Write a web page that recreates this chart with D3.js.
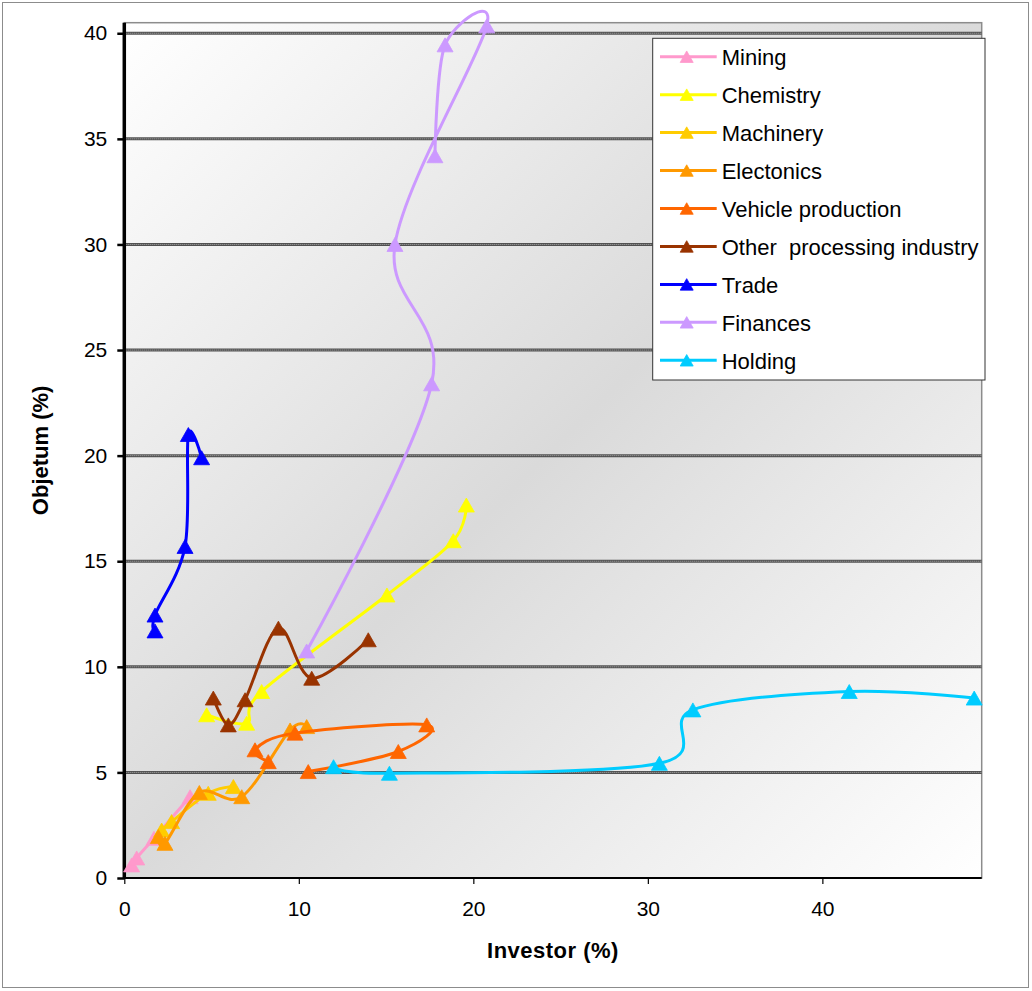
<!DOCTYPE html>
<html>
<head>
<meta charset="utf-8">
<script src="https://cdn.jsdelivr.net/npm/d3@7"></script>
<style>
  html, body { margin: 0; padding: 0; background: #ffffff; }
  svg { display: block; font-family: "Liberation Sans", Arial, sans-serif; }
</style>
</head>
<body>
<svg id="chart" width="1032" height="991"></svg>
<script>
// ---------- data ----------
const seriesNames = ["Mining", "Chemistry", "Machinery", "Electonics", "Vehicle production",
                     "Other  processing industry", "Trade", "Finances", "Holding"];
const seriesColors = ["#FF99CC", "#FFFF00", "#FFCC00", "#FF9900", "#FF6600",
                      "#993300", "#0000FF", "#CC99FF", "#00CCFF"];

const miningX = [0.42, 0.71, 1.70, 3.77];
const miningY = [0.62, 0.95, 1.88, 3.85];
const chemistryX = [4.72, 7.01, 7.87, 15.05, 18.85, 19.60];
const chemistryY = [7.73, 7.33, 8.83, 13.40, 15.97, 17.66];
const machineryX = [2.14, 2.71, 4.81, 6.25];
const machineryY = [2.27, 2.67, 4.01, 4.33];
const electronicsX = [1.95, 2.33, 4.30, 6.73, 9.50, 10.45];
const electronicsY = [1.96, 1.64, 4.05, 3.85, 7.01, 7.17];
const vehicleX = [8.25, 7.49, 9.78, 17.33, 15.70, 10.54];
const vehicleY = [5.51, 6.07, 6.86, 7.25, 5.99, 5.04];
const otherX = [5.10, 5.96, 6.92, 8.83, 10.74, 13.98];
const otherY = [8.52, 7.25, 8.44, 11.83, 9.46, 11.28];
const tradeX = [1.76, 1.76, 3.48, 3.67, 4.43];
const tradeY = [11.70, 12.45, 15.70, 21.00, 19.90];
const financesX = [10.45, 17.61, 15.51, 20.77, 18.38, 17.80];
const financesY = [10.75, 23.40, 30.00, 40.35, 39.45, 34.20];
const holdingX = [11.99, 15.19, 30.66, 32.58, 41.54, 48.70];
const holdingY = [5.27, 4.96, 5.43, 7.96, 8.83, 8.52];

const xTicks = [0, 10, 20, 30, 40];
const yTicks = [0, 5, 10, 15, 20, 25, 30, 35, 40];
const xDomain = [0, 49.13];
const yDomain = [0, 40.5];
const xTitle = "Investor (%)";
const yTitle = "Objetum (%)";

const allX = [miningX, chemistryX, machineryX, electronicsX, vehicleX, otherX, tradeX, financesX, holdingX];
const allY = [miningY, chemistryY, machineryY, electronicsY, vehicleY, otherY, tradeY, financesY, holdingY];
const series = seriesNames.map((name, i) => ({
  name, color: seriesColors[i],
  points: allX[i].map((x, j) => ({x, y: allY[i][j]}))
}));

// ---------- layout ----------
const plot = {left: 124.3, right: 981.7, top: 22.7, bottom: 878};
const svg = d3.select("#chart");

const x = d3.scaleLinear().domain(xDomain).range([plot.left, plot.right]);
const y = d3.scaleLinear().domain(yDomain).range([plot.bottom, plot.top]);

// chart border
svg.append("rect").attr("x", 2.5).attr("y", 2.5).attr("width", 1026).attr("height", 985)
  .attr("fill", "#ffffff").attr("stroke", "#8c8c8c").attr("stroke-width", 1);

// plot background gradient
const defs = svg.append("defs");
const grad = defs.append("linearGradient").attr("id", "bg")
  .attr("x1", 0).attr("y1", 0).attr("x2", 1).attr("y2", 1);
grad.append("stop").attr("offset", "0%").attr("stop-color", "#ffffff");
grad.append("stop").attr("offset", "50%").attr("stop-color", "#dadada");
grad.append("stop").attr("offset", "100%").attr("stop-color", "#ffffff");

svg.append("rect")
  .attr("x", plot.left).attr("y", plot.top)
  .attr("width", plot.right - plot.left).attr("height", plot.bottom - plot.top)
  .attr("fill", "url(#bg)").attr("stroke", "#8c8c8c").attr("stroke-width", 1.5);

// gridlines
const grid = svg.append("g");
yTicks.filter(t => t > 0).forEach(t => {
  grid.append("line").attr("x1", plot.left).attr("x2", plot.right)
    .attr("y1", y(t)).attr("y2", y(t)).attr("stroke", "#505050").attr("stroke-width", 3);
  grid.append("line").attr("x1", plot.left).attr("x2", plot.right)
    .attr("y1", y(t)).attr("y2", y(t)).attr("stroke", "#b0b0b0").attr("stroke-width", 1)
    .attr("stroke-dasharray", "1,1");
});

// axes
const xAxis = d3.axisBottom(x).tickValues(xTicks).tickSize(6).tickPadding(17).tickFormat(d3.format("d"));
const gx = svg.append("g").attr("transform", `translate(0,${plot.bottom})`).call(xAxis);
gx.select(".domain").attr("stroke", "#000").attr("stroke-width", 2)
  .attr("d", `M${plot.left},0H${plot.right}`);
gx.selectAll(".tick line").attr("stroke", "#000").attr("stroke-width", 1.2);
gx.selectAll(".tick text").attr("font-size", 21).attr("fill", "#000")
  .attr("font-family", "Liberation Sans, Arial, sans-serif");

const yAxis = d3.axisLeft(y).tickValues(yTicks).tickSize(7).tickPadding(10).tickFormat(d3.format("d"));
const gy = svg.append("g").attr("transform", `translate(${plot.left},0)`).call(yAxis);
gy.select(".domain").attr("stroke", "#000").attr("stroke-width", 3.5)
  .attr("d", `M0,${plot.top}V${plot.bottom + 1}`);
gy.selectAll(".tick line").attr("stroke", "#000").attr("stroke-width", 2.5);
gy.selectAll(".tick text").attr("font-size", 21).attr("fill", "#000")
  .attr("font-family", "Liberation Sans, Arial, sans-serif");

// axis titles
svg.append("text").attr("x", (plot.left + plot.right) / 2).attr("y", 958)
  .attr("text-anchor", "middle").attr("font-size", 22).attr("font-weight", "bold")
  .attr("letter-spacing", 0.5).text(xTitle);
svg.append("text").attr("transform", `translate(40,${(plot.top + plot.bottom) / 2}) rotate(-90)`)
  .attr("text-anchor", "middle").attr("dy", "0.35em").attr("font-size", 22)
  .attr("font-weight", "bold").text(yTitle);

// series (Excel-like smoothing: uniform Catmull-Rom)
const line = d3.line().x(d => x(d.x)).y(d => y(d.y)).curve(d3.curveCatmullRom.alpha(0));
const tri = (w, h) => `M0,${-h / 2}L${w / 2},${h / 2}L${-w / 2},${h / 2}Z`;

series.forEach(s => {
  const g = svg.append("g");
  g.append("path").attr("d", line(s.points)).attr("fill", "none")
    .attr("stroke", s.color).attr("stroke-width", 3).attr("stroke-linejoin", "round");
  g.selectAll("path.m").data(s.points).join("path").attr("class", "m")
    .attr("transform", d => `translate(${x(d.x)},${y(d.y)})`)
    .attr("d", tri(16, 14)).attr("fill", s.color).attr("stroke", s.color).attr("stroke-width", 0.8);
});

// legend
const legend = svg.append("g");
legend.append("rect").attr("x", 652.7).attr("y", 38.3).attr("width", 332.3).attr("height", 341.7)
  .attr("fill", "#ffffff").attr("stroke", "#333").attr("stroke-width", 1);
series.forEach((s, i) => {
  const base = 65 + i * 37.95;
  const ly = base - 8.3;
  legend.append("line").attr("x1", 660).attr("x2", 716.7).attr("y1", ly).attr("y2", ly)
    .attr("stroke", s.color).attr("stroke-width", 3);
  legend.append("path").attr("transform", `translate(686.7,${ly})`).attr("d", tri(13, 11.5))
    .attr("fill", s.color).attr("stroke", s.color).attr("stroke-width", 0.8);
  legend.append("text").attr("x", 721.7).attr("y", base).attr("font-size", 22)
    .attr("fill", "#000").style("white-space", "pre").text(s.name);
});
</script>
</body>
</html>
